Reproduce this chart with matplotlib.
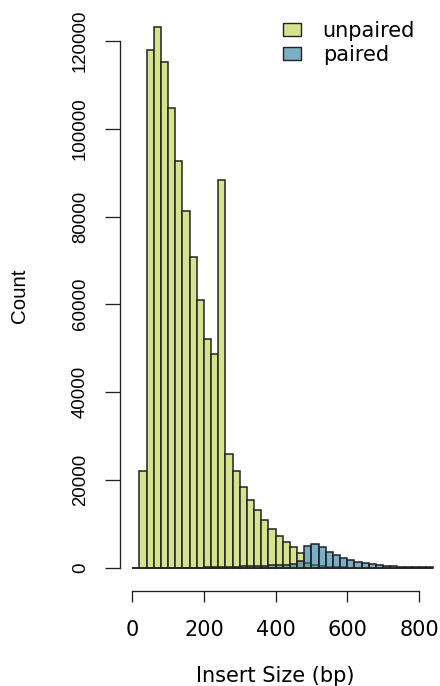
import numpy as np
import matplotlib
matplotlib.use('Agg')
from matplotlib import pyplot as plt
from matplotlib.patches import Patch

# Insert size histograms, 20 bp bins starting at 0
bin_width = 20
bin_starts = np.arange(0, 840, bin_width)

unpaired_counts = [
    0, 22000, 118000, 123300, 115300, 104700, 92700, 81300, 70800, 61000,
    52100, 48600, 88300, 25900, 22100, 18400, 15400, 13000, 10800, 8850,
    7250, 5750, 4750, 3400, 1050, 500, 300, 200, 120, 60,
    0, 0, 0, 0, 0, 0, 0, 0, 0, 0, 0, 0,
]
paired_counts = [
    0, 0, 0, 0, 0, 0, 0, 0, 0, 0,
    50, 80, 100, 150, 200, 250, 320, 400, 450, 500,
    550, 650, 800, 1500, 4850, 5450, 4650, 3450, 2800, 2250,
    1750, 1300, 980, 760, 600, 420, 300, 200, 130, 80, 40, 15,
]

labels = ['unpaired', 'paired']
x_ticks = [0, 200, 400, 600, 800]
y_ticks = [0, 20000, 40000, 60000, 80000, 100000, 120000]

unpaired_color = '#D5E38C'
paired_color = (37 / 255, 123 / 255, 157 / 255, 0.6)
edge = '#222222'

W, H = 440, 686

def fx(px):
    return px / W

def fy(py):
    return 1 - py / H

# horizontal text is set wider than the rotated y-axis text
wide = 'DejaVu Sans'
tall = 'Liberation Sans'

fig = plt.figure(figsize=(W / 100, H / 100), dpi=100)

# axes box chosen so that x=0 sits at 132px and y=0 at 567.5px
xlim = (-10, 850)
ylim = (-1500, 126000)
x_scale = 0.3583      # px per bp
y_scale = 0.0043875   # px per count
left = 132.3 + xlim[0] * x_scale
right = 132.3 + xlim[1] * x_scale
bottom = 567.5 - ylim[0] * y_scale
top = 567.5 - ylim[1] * y_scale
ax = fig.add_axes([fx(left), fy(bottom), fx(right) - fx(left), fy(top) - fy(bottom)])

ax.bar(bin_starts, unpaired_counts, width=bin_width, align='edge',
       color=unpaired_color, edgecolor=edge, linewidth=1.1)
ax.bar(bin_starts, paired_counts, width=bin_width, align='edge',
       color=paired_color, edgecolor=edge, linewidth=1.1)

ax.set_xlim(*xlim)
ax.set_ylim(*ylim)

for side in ['top', 'right']:
    ax.spines[side].set_visible(False)
ax.spines['left'].set_position(('outward', (left - 120) * 0.72))
ax.spines['bottom'].set_position(('outward', (590.7 - bottom) * 0.72))
ax.spines['left'].set_bounds(0, 120000)
ax.spines['bottom'].set_bounds(0, 800)
for side in ['left', 'bottom']:
    ax.spines[side].set_linewidth(0.95)
    ax.spines[side].set_color(edge)

ax.set_xticks(x_ticks)
ax.set_xticklabels([str(t) for t in x_ticks], fontsize=15, family=wide)
ax.set_yticks(y_ticks)
ax.set_yticklabels([str(t) for t in y_ticks], fontsize=13.4, family=tall,
                   rotation=90, va='center')
ax.tick_params(axis='x', length=11 * 0.72, width=0.95, color=edge, pad=13)
ax.tick_params(axis='y', length=15 * 0.72, width=0.95, color=edge, pad=11.6)

ax.set_xlabel('Insert Size (bp)', fontsize=15, family=wide)
ax.xaxis.set_label_coords(fx(275.7), fy(666.4), transform=fig.transFigure)
ax.set_ylabel('Count', fontsize=14.8, family=tall)
ax.yaxis.set_label_coords(fx(29.4), fy(295.5), transform=fig.transFigure)

handles = [
    Patch(facecolor=unpaired_color, edgecolor=edge, linewidth=1.0),
    Patch(facecolor=paired_color, edgecolor=edge, linewidth=1.0),
]
ax.legend(handles, labels, loc='upper left',
          bbox_to_anchor=(fx(283.3), fy(21)), bbox_transform=fig.transFigure,
          frameon=False, borderpad=0, borderaxespad=0,
          handlelength=0.84, handleheight=0.58, handletextpad=1.05,
          labelspacing=0.2, prop={'family': wide, 'size': 15})

fig.savefig('out.png', dpi=100)
